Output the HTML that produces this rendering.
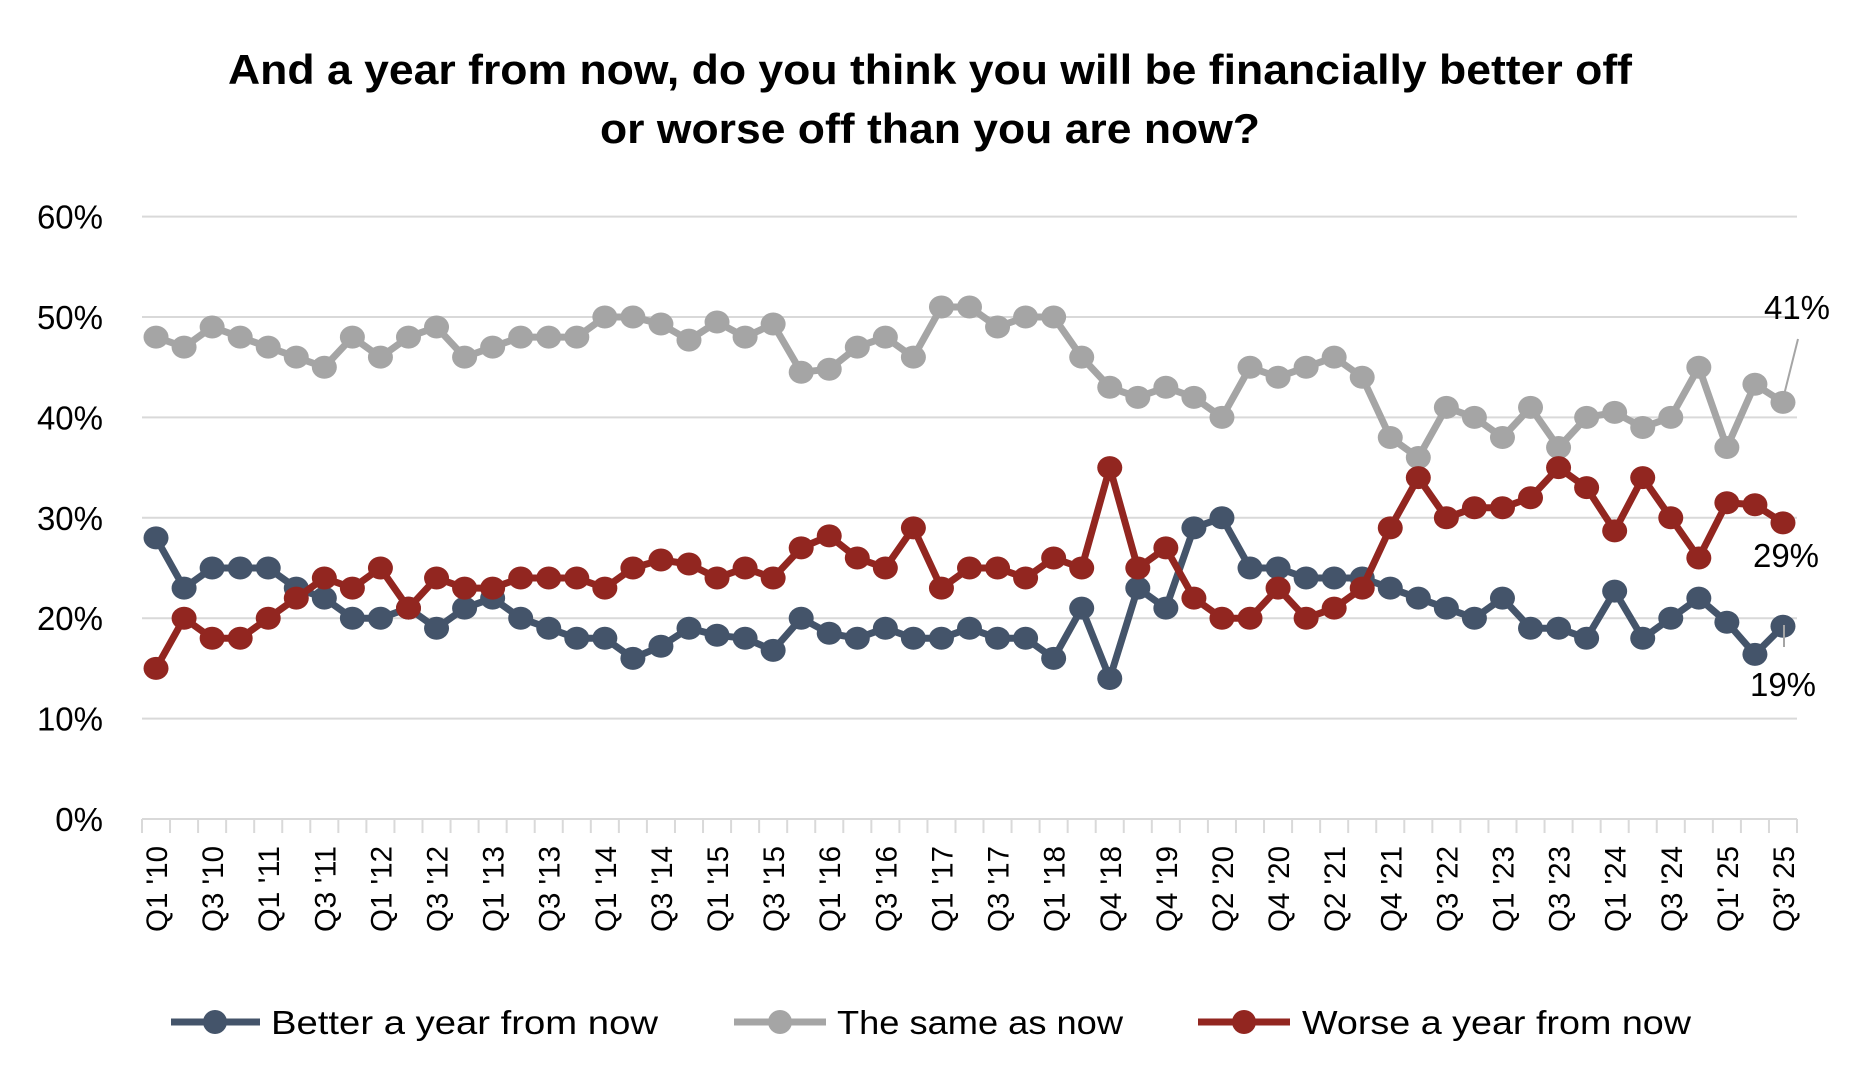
<!DOCTYPE html>
<html><head><meta charset="utf-8"><style>
html,body{margin:0;padding:0;background:#fff;}
svg{display:block;font-family:"Liberation Sans",sans-serif;}
</style></head><body>
<svg id="c" width="1850" height="1090" viewBox="0 0 1850 1090" xmlns="http://www.w3.org/2000/svg">
<text x="930" y="84" text-anchor="middle" font-size="42" font-weight="bold" fill="#000" textLength="1404" lengthAdjust="spacingAndGlyphs">And a year from now, do you think you will be financially better off</text>
<text x="930" y="143" text-anchor="middle" font-size="42" font-weight="bold" fill="#000" textLength="660" lengthAdjust="spacingAndGlyphs">or worse off than you are now?</text>
<g id="grid"></g>
<g id="series"></g>
<g font-size="33" fill="#000">
<text x="1797" y="319" text-anchor="middle">41%</text>
<text x="1786" y="567" text-anchor="middle">29%</text>
<text x="1783" y="696" text-anchor="middle">19%</text>
</g>
<line x1="1784" y1="395" x2="1798" y2="339" stroke="#a5a5a5" stroke-width="2"/>
<line x1="1784" y1="625" x2="1784" y2="647" stroke="#a5a5a5" stroke-width="2"/>
<g font-size="33" fill="#000">
<line x1="171" y1="1022" x2="260" y2="1022" stroke="#44546a" stroke-width="7"/><circle cx="215" cy="1022" r="12" fill="#44546a"/>
<text x="271" y="1034" textLength="387" lengthAdjust="spacingAndGlyphs">Better a year from now</text>
<line x1="734" y1="1022" x2="826" y2="1022" stroke="#a5a5a5" stroke-width="7"/><circle cx="780" cy="1022" r="12" fill="#a5a5a5"/>
<text x="837" y="1034" textLength="286" lengthAdjust="spacingAndGlyphs">The same as now</text>
<line x1="1198" y1="1022" x2="1290" y2="1022" stroke="#922620" stroke-width="7"/><circle cx="1244" cy="1022" r="12" fill="#922620"/>
<text x="1302" y="1034" textLength="389" lengthAdjust="spacingAndGlyphs">Worse a year from now</text>
</g>
</svg>
<script>
var NS="http://www.w3.org/2000/svg";
function el(p,t,a,txt){var e=document.createElementNS(NS,t);for(var k in a)e.setAttribute(k,a[k]);if(txt!==undefined)e.textContent=txt;p.appendChild(e);return e;}
var g=document.getElementById("grid"),s=document.getElementById("series");
var x0=142,x1=1797,N=59,w=(x1-x0)/N;
function Y(v){return 819-v*10.04;}
for(var i=0;i<=6;i++){var y=Y(i*10);
 el(g,"line",{x1:x0,x2:x1,y1:y,y2:y,stroke:"#d9d9d9","stroke-width":2});
 el(g,"text",{x:103,y:y+12,"text-anchor":"end","font-size":33,fill:"#000"},(i*10)+"%");}
for(var i=0;i<=N;i++){var x=x0+i*w;el(g,"line",{x1:x,x2:x,y1:819,y2:833,stroke:"#d9d9d9","stroke-width":2});}
var labs=["Q1 '10","Q3 '10","Q1 '11","Q3 '11","Q1 '12","Q3 '12","Q1 '13","Q3 '13","Q1 '14","Q3 '14","Q1 '15","Q3 '15","Q1 '16","Q3 '16","Q1 '17","Q3 '17","Q1 '18","Q4 '18","Q4 '19","Q2 '20","Q4 '20","Q2 '21","Q4 '21","Q3 '22","Q1 '23","Q3 '23","Q1 '24","Q3 '24","Q1' 25","Q3' 25"];
for(var j=0;j<labs.length;j++){var x=x0+(2*j+0.5)*w;
 el(g,"text",{x:0,y:0,"text-anchor":"end","font-size":30,fill:"#000",textLength:86,lengthAdjust:"spacingAndGlyphs",transform:"translate("+(x+11)+",846) rotate(-90)"},labs[j]);}
var same=[48,47,49,48,47,46,45,48,46,48,49,46,47,48,48,48,50,50,49.3,47.7,49.5,48,49.3,44.5,44.8,47,48,46,51,51,49,50,50,46,43,42,43,42,40,45,44,45,46,44,38,36,41,40,38,41,37,40,40.5,39,40,45,37,43.3,41.5];
var better=[28,23,25,25,25,23,22,20,20,21,19,21,22,20,19,18,18,16,17.2,19,18.3,18,16.8,20,18.5,18,19,18,18,19,18,18,16,21,14,23,21,29,30,25,25,24,24,24,23,22,21,20,22,19,19,18,22.7,18,20,22,19.6,16.4,19.2];
var worse=[15,20,18,18,20,22,24,23,25,21,24,23,23,24,24,24,23,25,25.8,25.4,24,25,24,27,28.2,26,25,29,23,25,25,24,26,25,35,25,27,22,20,20,23,20,21,23,29,34,30,31,31,32,35,33,28.7,34,30,26,31.5,31.3,29.5];
function draw(d,c){var pts=d.map(function(v,i){return (x0+(i+0.5)*w).toFixed(1)+","+Y(v).toFixed(1);});
 el(s,"polyline",{points:pts.join(" "),fill:"none",stroke:c,"stroke-width":7,"stroke-linejoin":"round"});
 d.forEach(function(v,i){el(s,"ellipse",{cx:x0+(i+0.5)*w,cy:Y(v),rx:12.5,ry:11.5,fill:c});});}
draw(same,"#a5a5a5");draw(better,"#44546a");draw(worse,"#922620");
</script>
</body></html>
